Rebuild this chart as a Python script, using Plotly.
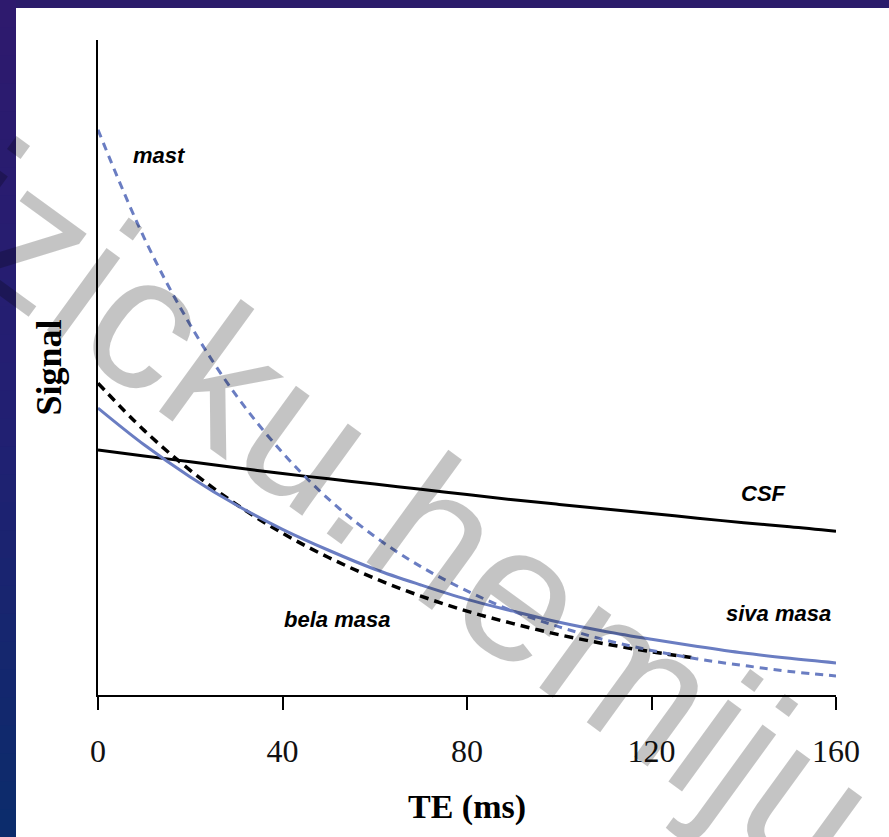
import plotly.graph_objects as go

# ---- data ----
te = [0, 10, 20, 30, 40, 50, 60, 70, 80, 90, 100, 110, 120, 130, 140, 150, 160]
mast = [0.863, 0.698, 0.565, 0.457, 0.370, 0.299, 0.242, 0.196, 0.159, 0.128,
        0.104, 0.084, 0.068, 0.055, 0.045, 0.036, 0.029]
siva_masa = [0.438, 0.382, 0.333, 0.290, 0.253, 0.221, 0.192, 0.168, 0.146, 0.128,
             0.111, 0.097, 0.085, 0.074, 0.064, 0.056, 0.049]
csf = [0.374, 0.365, 0.356, 0.347, 0.338, 0.330, 0.322, 0.314, 0.306, 0.298,
       0.291, 0.284, 0.277, 0.270, 0.263, 0.257, 0.250]
te_bela = [0, 10, 20, 30, 40, 50, 60, 70, 80, 90, 100, 110, 120, 130]
bela_masa = [0.476, 0.404, 0.343, 0.291, 0.247, 0.210, 0.178, 0.151, 0.128, 0.109,
             0.092, 0.078, 0.066, 0.056]
x_ticks = [0, 40, 80, 120, 160]

BLUE = "#6a7dc2"

fig = go.Figure()
fig.add_trace(go.Scatter(x=te, y=csf, mode="lines", name="CSF",
                         line=dict(color="black", width=3, shape="spline")))
fig.add_trace(go.Scatter(x=te_bela, y=bela_masa, mode="lines", name="bela masa",
                         line=dict(color="black", width=3.5, dash="9px,6px", shape="spline")))
fig.add_trace(go.Scatter(x=te, y=siva_masa, mode="lines", name="siva masa",
                         line=dict(color=BLUE, width=3, shape="spline")))
fig.add_trace(go.Scatter(x=te, y=mast, mode="lines", name="mast",
                         line=dict(color=BLUE, width=3, dash="8px,6px", shape="spline")))

# series labels
lab_font = dict(family="Liberation Sans, Arial", size=22, color="black",
                weight="bold", style="italic")
for txt, x, y in [("mast", 13.3, 0.823), ("CSF", 144.3, 0.307),
                  ("siva masa", 147.5, 0.124), ("bela masa", 51.8, 0.116)]:
    fig.add_annotation(x=x, y=y, xref="x", yref="y", text=txt, showarrow=False,
                       font=lab_font, xanchor="center", yanchor="middle")

# slide background: white panel with dark band on top and gradient strip on left
W, H = 889, 837
L, R, T, B = 98, 53, 40, 142
pw, ph = W - L - R, H - T - B

def px(xp):
    return (xp - L) / pw

def py(yp):
    return (H - B - yp) / ph

shapes = []
shapes.append(dict(type="rect", xref="paper", yref="paper", x0=px(0), x1=px(W),
                   y0=py(0), y1=py(8), fillcolor="#2b1c6b", line=dict(width=0), layer="below"))
c0 = (46, 26, 110)
c1 = (34, 32, 115)
c2 = (12, 44, 108)
n = 30
for i in range(n):
    f = i / (n - 1)
    if f < 0.5:
        g = f / 0.5
        c = tuple(int(c0[k] + (c1[k] - c0[k]) * g) for k in range(3))
    else:
        g = (f - 0.5) / 0.5
        c = tuple(int(c1[k] + (c2[k] - c1[k]) * g) for k in range(3))
    y0p = i * H / n
    y1p = (i + 1) * H / n + 1
    shapes.append(dict(type="rect", xref="paper", yref="paper", x0=px(0), x1=px(16),
                       y0=py(y1p), y1=py(y0p), fillcolor="rgb(%d,%d,%d)" % c,
                       line=dict(width=0), layer="below"))
fig.update_layout(shapes=shapes)

# watermark
fig.add_annotation(xref="paper", yref="paper", x=px(360), y=py(476),
                   text="Fizicku.hemiju", showarrow=False, textangle=36,
                   font=dict(family="Liberation Sans, Arial", size=192,
                             color="rgba(0,0,0,0.23)"),
                   xanchor="center", yanchor="middle")

fig.update_layout(
    width=W, height=H,
    margin=dict(l=L, r=R, t=T, b=B),
    paper_bgcolor="white", plot_bgcolor="white",
    showlegend=False,
    xaxis=dict(range=[0, 160], tickvals=x_ticks, ticks="outside", ticklen=13,
               tickwidth=2, tickcolor="black", showline=True, linecolor="black",
               linewidth=2, showgrid=False, zeroline=False,
               tickfont=dict(family="Liberation Serif, Times New Roman", size=32, color="#111"),
               ticklabelstandoff=14,
               title=dict(text="TE (ms)", standoff=26,
                          font=dict(family="Liberation Serif, Times New Roman", size=34,
                                    color="black", weight="bold"))),
    yaxis=dict(range=[0, 1], showline=True, linecolor="black", linewidth=1.5,
               ticks="", showticklabels=False, showgrid=False, zeroline=False,
               title=dict(text="Signal", standoff=24,
                          font=dict(family="Liberation Serif, Times New Roman", size=36,
                                    color="black", weight="bold"))),
)

fig.write_html("out.html")
